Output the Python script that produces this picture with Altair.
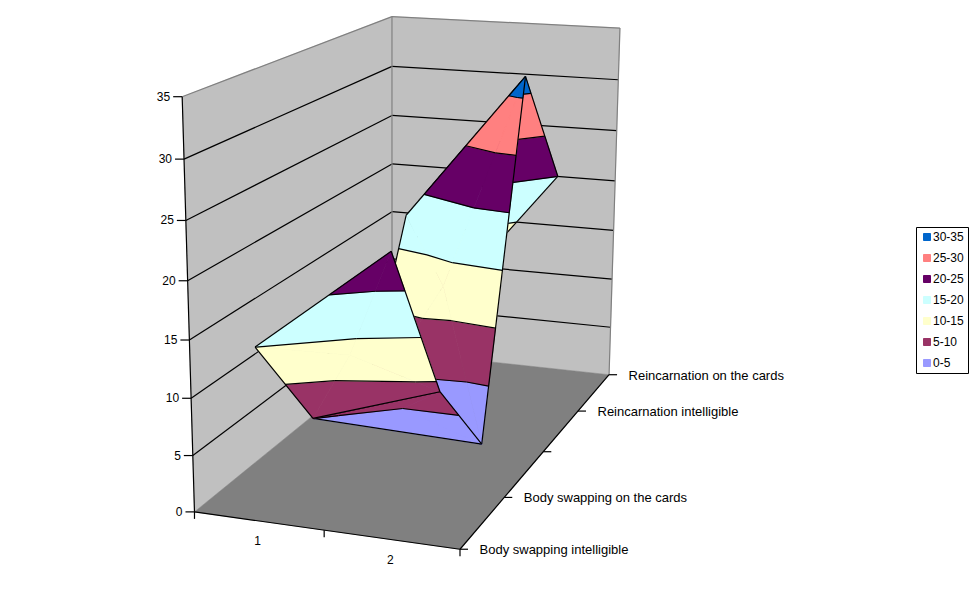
import numpy as np
import pandas as pd
import altair as alt

CATEGORIES = ["1", "2"]
SERIES = ["Body swapping intelligible", "Body swapping on the cards", "", "Reincarnation intelligible", "Reincarnation on the cards"]
COL_1 = [15.02, 5.02, 1.8, 17.8, 6.0]
COL_2 = [24.0, 8.8, 0.0, 31.9, 20.02]
Z_TICKS = [0, 5, 10, 15, 20, 25, 30, 35]
BANDS = ["30-35", "25-30", "20-25", "15-20", "10-15", "5-10", "0-5"]
BAND_COLORS = ["#0066CC", "#FF8080", "#660066", "#CCFFFF", "#FFFFCC", "#993366", "#9999FF"]

# camera calibration of the 3-D box: world (X, Y, Z/35) -> page pixel
CAL_W = [(0,0,0),(0,0,5),(0,0,10),(0,0,15),(0,0,20),(0,0,25),(0,0,30),(0,0,35),
         (1,0,0),(0,1,0),(0,1,35),(0,1,30),(1,1,0),(1,1,35)]
CAL_P = [(194.5,512),(193,456),(191,398),(189.5,340),(187.5,281),(186,220),(184,159),(182,97),
         (460,549),(392,351),(392,17),(392,66),(609,375),(620,28)]
A, b = [], []
for (X, Y, Z), (u, v) in zip(CAL_W, CAL_P):
    Z = Z / 35
    A.append([X, Y, Z, 1, 0, 0, 0, 0, -u*X, -u*Y, -u*Z]); b.append(u)
    A.append([0, 0, 0, 0, X, Y, Z, 1, -v*X, -v*Y, -v*Z]); b.append(v)
p = np.linalg.lstsq(np.array(A, float), np.array(b, float), rcond=None)[0]
P = np.append(p, 1).reshape(3, 4)

def proj(w):
    h = P @ np.array([w[0], w[1], w[2] / 35, 1.0])
    return float(h[0] / h[2]), float(h[1] / h[2])

XS = [0.25, 0.75]
YS = [0.0, 0.25, 0.5, 0.75, 1.0]
COLS = [COL_1, COL_2]
def vert(c, r):
    # X, Y, height, value used for the colour bands
    return np.array([XS[c], YS[r], COLS[c][r], COLS[c][r]])

LEVELS = [0, 5, 10, 15, 20, 25, 30, 35]
def clip(poly, t, keep_above):
    out = []
    n = len(poly)
    for i in range(n):
        a, c = poly[i], poly[(i + 1) % n]
        da, dc = a[3] - t, c[3] - t
        ina = da >= 0 if keep_above else da <= 0
        inc = dc >= 0 if keep_above else dc <= 0
        if ina:
            out.append(a)
        if ina != inc:
            out.append(a + (c - a) * (da / (da - dc)))
    return out

def contour(tri, t):
    pts = []
    for i in range(3):
        a, c = tri[i], tri[(i + 1) % 3]
        da, dc = a[3] - t, c[3] - t
        if da * dc < 0:
            pts.append(a + (c - a) * (da / (da - dc)))
    return pts if len(pts) == 2 else None

# facets in painter's order: (triangles, outline edges)
stages = []
for q in [3, 2, 1, 0]:
    a, bb, c, d = vert(0, q), vert(1, q), vert(1, q + 1), vert(0, q + 1)
    if q == 1:
        stages.append(([[a, d, c]], [(a, d), (d, c)]))
        t = 0.343 * a + 0.517 * bb + 0.14 * c
        t[3] = 4.95
        stages.append(([[a, c, t], [a, bb, t], [bb, c, t]], [(a, bb), (bb, c), (a, c)]))
    else:
        e = (a + bb + c + d) / 4
        stages.append(([[d, c, e], [a, d, e], [bb, c, e], [a, bb, e]],
                       [(a, bb), (bb, c), (c, d), (d, a)]))

W, H = 961, 584
xs = alt.Scale(domain=[8, 8 + W], range=[0, W], nice=False, zero=False)
ys = alt.Scale(domain=[8 + H, 8], range=[H, 0], nice=False, zero=False)
X_ = alt.X("x:Q", scale=xs, axis=None)
Y_ = alt.Y("y:Q", scale=ys, axis=None)
fill_scale = alt.Scale(domain=BANDS, range=BAND_COLORS)
legend = alt.Legend(title=None, orient="none", legendX=908, legendY=219, symbolType="square",
                    symbolSize=49, symbolStrokeColor="black", symbolStrokeWidth=1,
                    labelFont="Liberation Sans", labelFontSize=12, labelColor="black",
                    labelOffset=0, rowPadding=9, padding=4, symbolOffset=1,
                    strokeColor="black", fillColor="white")

def polys(rows):
    return (alt.Chart(pd.DataFrame(rows)).mark_line(interpolate="linear", strokeWidth=0.7)
            .encode(x=X_, y=Y_, detail="poly:N", order="i:Q",
                    fill=alt.Fill("band:N", scale=fill_scale, legend=legend),
                    stroke=alt.Stroke("band:N", scale=fill_scale, legend=None)))

def rules(rows, color="black", width=1.2):
    return (alt.Chart(pd.DataFrame(rows)).mark_rule(color=color, strokeWidth=width)
            .encode(x=X_, y=Y_, x2="x2:Q", y2="y2:Q"))

def seg(w0, w1):
    (x, y), (x2, y2) = proj(w0), proj(w1)
    return dict(x=x, y=y, x2=x2, y2=y2)

def box(corners, name):
    rows = []
    for i, w in enumerate(corners + corners[:1]):
        x, y = proj(w)
        rows.append(dict(x=x, y=y, i=i, poly=name))
    return rows

def plain(rows, color):
    return (alt.Chart(pd.DataFrame(rows)).mark_line(fill=color, stroke=color, strokeWidth=0.5)
            .encode(x=X_, y=Y_, order="i:Q"))

layers = [
    plain(box([(0,0,0),(0,1,0),(0,1,35),(0,0,35)], "left"), "#C0C0C0"),
    plain(box([(0,1,0),(1,1,0),(1,1,35),(0,1,35)], "back"), "#C0C0C0"),
    plain(box([(0,0,0),(1,0,0),(1,1,0),(0,1,0)], "floor"), "#808080"),
]
grid = []
for z in Z_TICKS[1:-1]:
    grid.append(seg((0,0,z),(0,1,z)))
    grid.append(seg((0,1,z),(1,1,z)))
layers.append(rules(grid))
layers.append(rules([seg((0,0,35),(0,1,35)), seg((0,1,35),(1,1,35)),
                     seg((0,1,0),(0,1,35)), seg((1,1,0),(1,1,35))], "#808080"))

# axes and ticks
ax = [seg((0,0,0),(0,0,35)), seg((0,0,0),(1,0,0)), seg((1,0,0),(1,1,0))]
labels = []
for z in Z_TICKS:
    x, y = proj((0,0,z))
    ax.append(dict(x=x-9, y=y, x2=x, y2=y))
    labels.append(dict(x=x-12, y=y, t=str(z), a="right", s=12))
for Xv in [0, 0.5, 1]:
    x, y = proj((Xv,0,0))
    ax.append(dict(x=x, y=y, x2=x, y2=y+7))
for k, Xv in enumerate(XS):
    x, y = proj((Xv,0,0))
    labels.append(dict(x=x-1, y=y+20, t=CATEGORIES[k], a="center", s=12))
for k, Yv in enumerate(YS):
    x, y = proj((1,Yv,0))
    ax.append(dict(x=x, y=y, x2=x+8, y2=y))
    if SERIES[k]:
        labels.append(dict(x=x+19.5, y=y+1, t=SERIES[k], a="left", s=13))
layers.append(rules(ax))

pid = 0
for tris, edges in stages:
    rows, lines = [], [seg(u, v) for u, v in edges]
    for tri in tris:
        for k in range(len(LEVELS) - 1):
            lo, hi = LEVELS[k], LEVELS[k + 1]
            name = "0-5" if k == 0 else f"{lo}-{hi}"
            poly = clip(clip(list(tri), lo, True), hi, False)
            if len(poly) >= 3:
                pid += 1
                for i, w in enumerate(poly + poly[:1]):
                    x, y = proj(w)
                    rows.append(dict(x=x, y=y, i=i, poly=pid, band=name))
        for t in LEVELS[1:-1]:
            s = contour(tri, t)
            if s:
                lines.append(seg(s[0], s[1]))
    layers.append(polys(rows))
    layers.append(rules(lines))

for a_, size in [("right", 12), ("center", 12), ("left", 13)]:
    sub = [l for l in labels if l["a"] == a_]
    layers.append(alt.Chart(pd.DataFrame(sub))
                  .mark_text(align=a_, baseline="middle", font="Liberation Sans", fontSize=size, color="black")
                  .encode(x=X_, y=Y_, text="t:N"))

chart = (alt.layer(*layers)
         .properties(width=W, height=H, padding=0, background="white",
                     autosize=alt.AutoSizeParams(type="none"))
         .configure_view(stroke=None))
chart.save("out.html", embed_options={"renderer": "svg", "actions": False})
